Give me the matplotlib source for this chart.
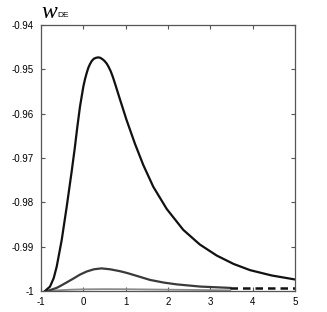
import matplotlib
matplotlib.use("Agg")
import matplotlib.pyplot as plt

# main curve
x1 = [-0.905, -0.787, -0.70, -0.629, -0.511, -0.393, -0.275, -0.20, -0.142, -0.079, 0.0, 0.04, 0.08, 0.12, 0.158, 0.20, 0.25, 0.30, 0.354,
      0.40, 0.45, 0.50, 0.552, 0.60, 0.65, 0.70, 0.748, 0.866, 1.02, 1.22, 1.417, 1.653, 1.97, 2.36, 2.75, 3.15, 3.55, 3.94, 4.45, 5.0]
y1 = [-1.0, -0.9990, -0.9971, -0.9945, -0.9885, -0.9810, -0.9730, -0.9676, -0.9630, -0.9584, -0.9539, -0.9522, -0.9508, -0.9496, -0.9488, -0.9481, -0.9476, -0.9474, -0.9473,
      -0.9474, -0.9477, -0.9481, -0.9487, -0.9495, -0.9505, -0.9518, -0.9532, -0.9568, -0.9614, -0.9668, -0.9716, -0.9765, -0.9815, -0.9862, -0.9895, -0.9920, -0.9939, -0.9953, -0.9965, -0.9974]

# second curve
x2 = [-0.85, -0.63, -0.55, -0.40, -0.236, -0.079, 0.08, 0.25, 0.43, 0.63, 0.85, 1.02, 1.30, 1.575, 1.90, 2.20, 2.76, 3.47]
y2 = [-1.0, -0.9993, -0.9989, -0.9981, -0.9972, -0.9963, -0.9956, -0.9951, -0.9949, -0.9951, -0.9955, -0.9959, -0.9967, -0.9975, -0.9981, -0.9985, -0.9990, -0.9993]

# third curve
x3 = [-0.85, -0.6, -0.3, 0.0, 0.5, 1.0, 1.5, 2.0, 2.5, 3.0, 3.47]
y3 = [-1.0, -0.99985, -0.9997, -0.99962, -0.99958, -0.9996, -0.99965, -0.9997, -0.99975, -0.9998, -0.99985]

# dashed segment
x4 = [3.47, 5.0]
y4 = [-0.9993, -0.9993]

xticks = [-1, 0, 1, 2, 3, 4, 5]
yticks = [-1.0, -0.99, -0.98, -0.97, -0.96, -0.95, -0.94]
yticklabels = ["-1", "-0.99", "-0.98", "-0.97", "-0.96", "-0.95", "-0.94"]

fig = plt.figure(figsize=(3.27, 3.12), dpi=100)
ax = fig.add_axes([41/327, 1-291/312, (295-41)/327, (291-25)/312])

ax.plot(x3, y3, color="#8a8a8a", lw=1.3, solid_joinstyle="round")
ax.plot(x2, y2, color="#3a3a3a", lw=1.6, solid_joinstyle="round")
ax.plot(x1, y1, color="#111111", lw=1.6, solid_joinstyle="round")
ax.plot(x4, y4, color="#111111", lw=1.8, dashes=(3, 2))

ax.set_xlim(-1, 5)
ax.set_ylim(-1.0, -0.94)
ax.set_xticks(xticks)
ax.set_xticklabels([str(t) for t in xticks])
ax.set_yticks(yticks)
ax.set_yticklabels(yticklabels)

fam = ["Liberation Sans Narrow", "Liberation Sans", "DejaVu Sans"]
for lab in ax.get_xticklabels() + ax.get_yticklabels():
    lab.set_fontfamily(fam)
    lab.set_fontsize(7)
ax.tick_params(direction="in", length=3, width=0.8, top=True, right=True, colors="#555555", labelcolor="black")
ax.tick_params(axis="y", pad=5)
ax.tick_params(axis="x", pad=4)
for s in ax.spines.values():
    s.set_color("#555555")
    s.set_linewidth(0.9)

fig.text(41/327, 1-18/312, "w", fontsize=17, style="italic", family=["Liberation Serif", "DejaVu Serif"])
fig.text(57/327, 1-17/312, "DE", fontsize=6, family=["Liberation Sans", "DejaVu Sans"])

fig.savefig("out.png", dpi=100)
